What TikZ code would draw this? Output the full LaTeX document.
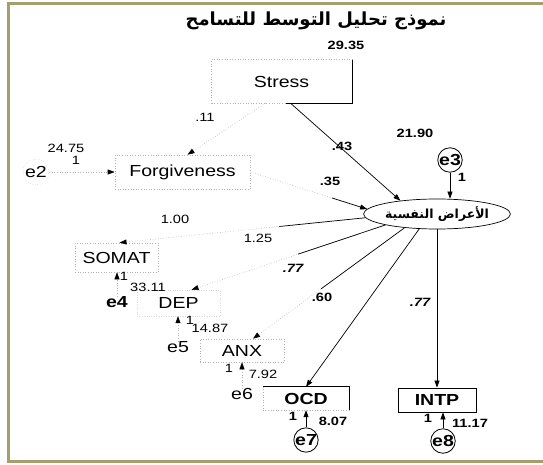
\documentclass[tikz,border=0pt]{standalone}
\usepackage{fontspec}
\setmainfont{Liberation Sans}
\newfontfamily\lblfont[FakeStretch=1.22]{Liberation Sans}
\newfontfamily\arabicfont[Script=Arabic]{DejaVu Sans}
\TeXXeTstate=1
\usetikzlibrary{arrows.meta,shapes.geometric,calc}
\definecolor{frameolive}{RGB}{165,158,110}

\tikzset{
  lbl/.style={font=\lblfont\fontsize{16}{18}\selectfont, inner sep=0pt},
  lblb/.style={font=\lblfont\bfseries\fontsize{16}{18}\selectfont, inner sep=0pt},
  num/.style={font=\lblfont\fontsize{12}{14}\selectfont, inner sep=0pt},
  numb/.style={font=\lblfont\bfseries\fontsize{12}{14}\selectfont, inner sep=0pt},
  numbi/.style={font=\lblfont\bfseries\itshape\fontsize{12}{14}\selectfont, inner sep=0pt},
  faintbox/.style={draw=black!30, dotted, line width=0.6pt},
  solidbox/.style={draw=black, line width=0.8pt},
  arr/.style={-{Triangle[length=7pt,width=5pt,color=black]}},
  faintline/.style={draw=black!30, dotted, line width=0.6pt},
  solidline/.style={draw=black, line width=0.7pt},
}

\begin{document}
\begin{tikzpicture}[x=1pt,y=-1pt]
\useasboundingbox (0,0) rectangle (543,465);

% frame
\draw[frameolive, line width=3pt] (543,4) -- (8,4) -- (8,461) -- (543,461);

% title
\node (title) at (316,21) {\arabicfont\bfseries\fontsize{18}{20}\selectfont\beginR نموذج تحليل التوسط للتسامح\endR};

% observed and latent variables
\node[lbl, minimum width=141pt, minimum height=43pt] (stress) at (281.5,81.5) {Stress};
\draw[faintline] (stress.south west) -- (stress.north west) -- (stress.north east);
\draw[solidline] (stress.north east) -- (stress.south east) -- ([xshift=-67pt]stress.south east);
\draw[faintline] ([xshift=-67pt]stress.south east) -- (stress.south west);

\node[lbl, faintbox, minimum width=135pt, minimum height=34pt] (forg) at (182.5,172) {Forgiveness};
\node[ellipse, draw=black, line width=0.7pt, minimum width=132pt, minimum height=30pt, inner sep=0pt] (ell) at (437,214)
  {\arabicfont\bfseries\fontsize{12.5}{14}\selectfont\beginR الأعراض النفسية\endR};

\node[lbl, faintbox, minimum width=83pt, minimum height=29pt] (somat) at (116.5,257.5) {SOMAT};
\node[lbl, draw=black!15, dotted, minimum width=83pt, minimum height=26pt] (dep) at (178.5,303) {DEP};
\node[lbl, faintbox, minimum width=84pt, minimum height=23pt] (anx) at (242,350.5) {ANX};
\node[lblb, minimum width=86pt, minimum height=23pt] (ocd) at (306,398.5) {OCD};
\draw[faintline] (ocd.north west) -- (ocd.south west) -- (ocd.south east);
\draw[solidline] (ocd.north west) -- (ocd.north east) -- (ocd.south east);
\node[lblb, solidbox, minimum width=78pt, minimum height=24pt] (intp) at (437,400) {INTP};

% error terms
\node[lbl, circle, draw=black!30, dotted, minimum size=26pt] (e2) at (36,172) {e2};
\node[lblb, circle, draw=black, line width=0.8pt, minimum size=24pt] (e3) at (450,160) {e3};
\node[lblb] (e4) at (117,302) {e4};
\node[lbl] (e5) at (178,347) {e5};
\node[lbl] (e6) at (242,394) {e6};
\node[lblb, circle, draw=black, line width=0.8pt, minimum size=20pt] (e7) at (306,440) {e7};
\node[lblb, circle, draw=black, line width=0.8pt, minimum size=20pt] (e8) at (443,441) {e8};

% paths from the predictors
\draw[faintline, arr] ([xshift=-16pt]stress.south) -- ([xshift=5pt]forg.north);
\draw[solidline, arr] ([xshift=9pt]stress.south) -- (ell.160);
\draw[faintline, arr] (forg.east) -- (ell.176);
\draw[solidline] (ell.176) -- ($(ell.176)!0.3!(forg.east)$);
\draw[solidline, arr] (e3.south) -- (e3.south |- ell.north);

% loadings of the symptom factor
\draw[faintline, arr] (ell.183) -- ([xshift=3pt]somat.north);
\draw[solidline] (ell.183) -- ($(ell.183)!0.35!([xshift=3pt]somat.north)$);
\draw[faintline, arr] (ell.192) -- ([xshift=13pt]dep.north);
\draw[solidline] (ell.192) -- ($(ell.192)!0.45!([xshift=13pt]dep.north)$);
\draw[faintline, arr] (ell.203) -- ([xshift=11pt]anx.north);
\draw[solidline] (ell.203) -- ($(ell.203)!0.55!([xshift=11pt]anx.north)$);
\draw[solidline, arr] (ell.220) -- (ocd.north);
\draw[solidline, arr] (ell.south) -- (intp.north);

% error arrows
\draw[faintline, arr] (e2.east) -- (forg.west);
\draw[faintline, arr] (e4.north) -- (e4.north |- somat.south);
\draw[faintline, arr] (e5.north) -- (e5.north |- dep.south);
\draw[faintline, arr] (e6.north) -- (e6.north |- anx.south);
\draw[solidline, arr] (e7.north) -- (e7.north |- ocd.south);
\draw[solidline, arr] (e8.north) -- (e8.north |- intp.south);

% estimates
\node[numb] (v1) at (346,45) {29.35};
\node[num] (p1) at (205,117) {.11};
\node[num] (v2) at (66,148) {24.75};
\node[num] (w2) at (76,160) {1};
\node[numb] (p2) at (342,146) {.43};
\node[numb] (p3) at (330,181) {.35};
\node[numb] (v3) at (415,133) {21.90};
\node[numb] (w3) at (462,177) {1};
\node[num] (l1) at (175,219) {1.00};
\node[num] (l2) at (258,238) {1.25};
\node[numbi] (l3) at (293,268) {.77};
\node[numb] (l4) at (322,297) {.60};
\node[numbi] (l5) at (420,302) {.77};
\node[num] (w4) at (124,276) {1};
\node[num] (v4) at (148,287) {33.11};
\node[num] (w5) at (190,320) {1};
\node[num] (v5) at (210,328) {14.87};
\node[num] (w6) at (229,368) {1};
\node[num] (v6) at (263,374) {7.92};
\node[numb] (w7) at (293,416) {1};
\node[numb] (v7) at (333,421) {8.07};
\node[numb] (w8) at (428,418) {1};
\node[numb] (v8) at (470,423) {11.17};
\end{tikzpicture}
\end{document}
